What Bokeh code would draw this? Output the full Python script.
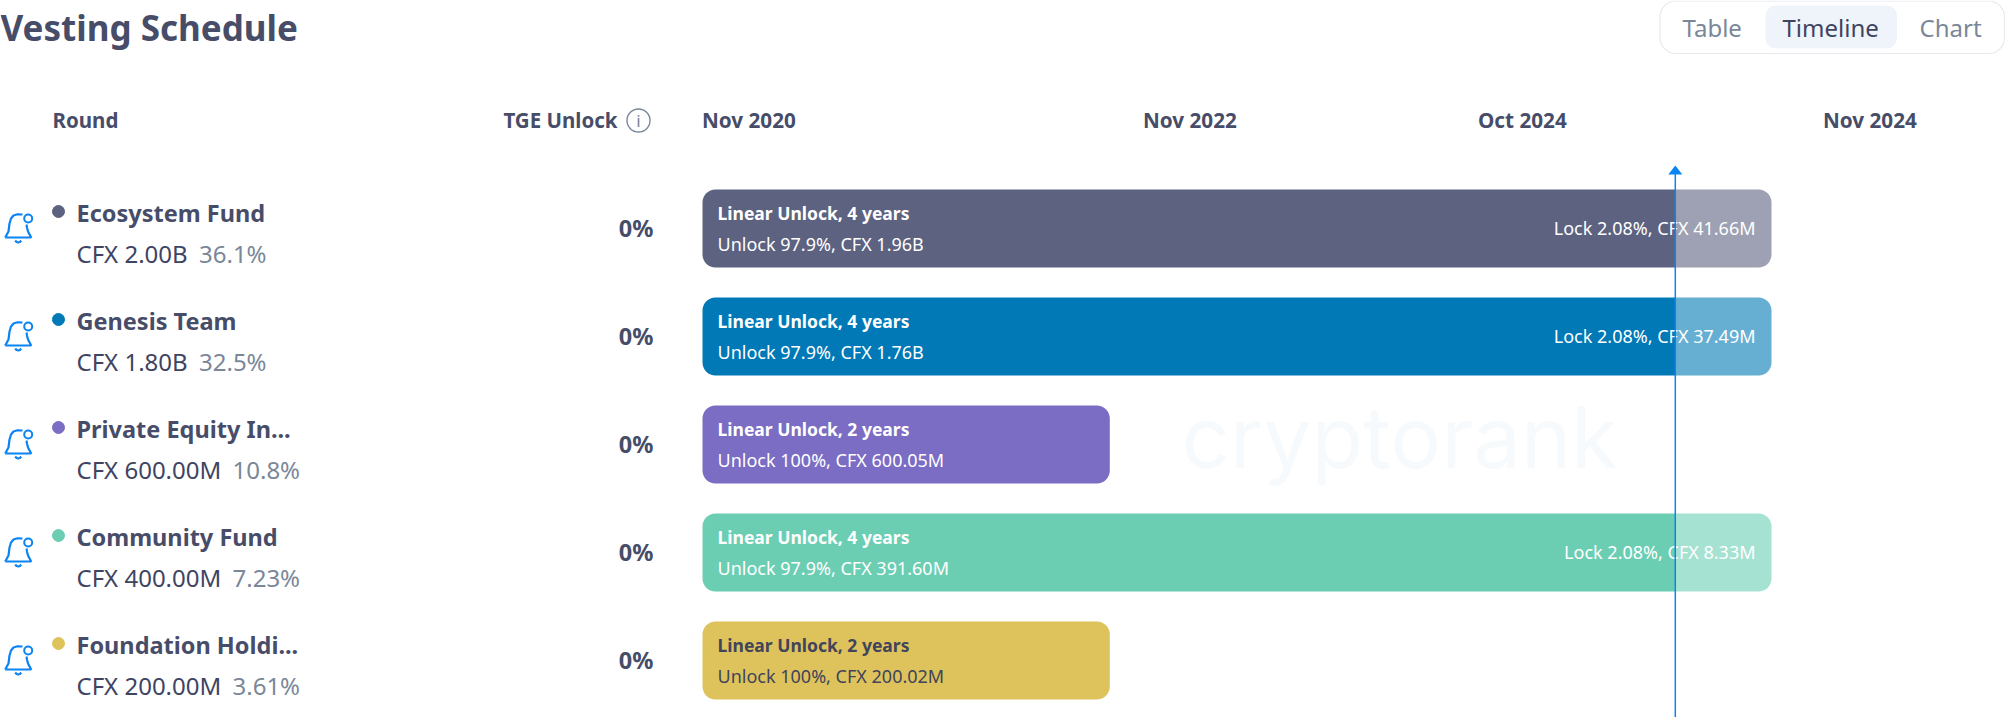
from bokeh.plotting import figure
from bokeh.models import Range1d
from bokeh.embed import file_html
from bokeh.resources import INLINE
from bokeh.core.properties import value

W, H = 2005, 717

rounds = ["Ecosystem Fund", "Genesis Team", "Private Equity In...", "Community Fund", "Foundation Holdi..."]
allocations = ["CFX 2.00B", "CFX 1.80B", "CFX 600.00M", "CFX 400.00M", "CFX 200.00M"]
shares = ["36.1%", "32.5%", "10.8%", "7.23%", "3.61%"]
tge_unlock = ["0%", "0%", "0%", "0%", "0%"]
# end of each vesting bar on the timeline, as a share of the longest bar
vesting_end = [1.0, 1.0, 0.381, 1.0, 0.381]
vesting_titles = ["Linear Unlock, 4 years", "Linear Unlock, 4 years", "Linear Unlock, 2 years",
                  "Linear Unlock, 4 years", "Linear Unlock, 2 years"]
unlock_labels = ["Unlock 97.9%, CFX 1.96B", "Unlock 97.9%, CFX 1.76B", "Unlock 100%, CFX 600.05M",
                 "Unlock 97.9%, CFX 391.60M", "Unlock 100%, CFX 200.02M"]
lock_labels = ["Lock 2.08%, CFX 41.66M", "Lock 2.08%, CFX 37.49M", "", "Lock 2.08%, CFX 8.33M", ""]
colors = ["#5c6280", "#0079b6", "#7b6cc4", "#6bceb3", "#dec35c"]
bar_text_colors = ["#ffffff", "#ffffff", "#ffffff", "#ffffff", "#41445a"]
today_pos = 0.91
time_labels = ["Nov 2020", "Nov 2022", "Oct 2024", "Nov 2024"]
time_label_px = [701.5, 1142.5, 1477.5, 1822.5]
share_px = [198.5, 198.5, 232, 232, 232]

DARK = "#3e4461"
STRONG = "#474d69"
GREY = "#7a8798"
BLUE = "#0b84f3"
FONT = value("Noto Sans")

PX_UNIT = 1771 - 702
ROW0, ROW_STEP = 228, 108

p = figure(width=W, height=H, output_backend="svg", toolbar_location=None,
           x_axis_location=None, y_axis_location=None, min_border=0,
           x_range=Range1d(-702 / PX_UNIT, (W - 702) / PX_UNIT),
           y_range=Range1d((H - ROW0) / ROW_STEP, -ROW0 / ROW_STEP),
           outline_line_color=None, background_fill_color="white", border_fill_color="white",
           styles={"position": "absolute", "left": "0px", "top": "0px"})
p.grid.visible = False
p.extra_x_ranges["px"] = Range1d(0, W)
p.extra_y_ranges["py"] = Range1d(H, 0)


def label(x, y, text, size, color=DARK, style="normal", align="left", font=FONT):
    p.text(x=x, y=y, text=text, x_range_name="px", y_range_name="py",
           text_font=font, text_font_size=f"{size}px", text_font_style=style,
           text_color=color, text_align=align, text_baseline="middle")


def row_px(i, dy=0):
    return ROW0 + ROW_STEP * i + dy


n = len(rounds)
rows = list(range(n))

# Watermark
label([1181], [437], ["cryptorank"], 85, color="#f7fafc", font=value("Inter"))

# Header
label([0], [26.5], ["Vesting Schedule"], 35, color=STRONG, style="bold")
p.quad(left=[1659.5], right=[2004], top=[0.5], bottom=[53], x_range_name="px", y_range_name="py",
       fill_color="white", line_color="#e6eaef", line_width=1.2, border_radius=16)
p.quad(left=[1765], right=[1896.5], top=[5], bottom=[48], x_range_name="px", y_range_name="py",
       fill_color="#eff4fb", line_color=None, border_radius=10)
label([1682, 1919], [26.5, 26.5], ["Table", "Chart"], 24, color=GREY)
label([1782], [26.5], ["Timeline"], 24)

label([52], [119], ["Round"], 20.5, color=STRONG, style="bold")
label([617], [119], ["TGE Unlock"], 20.5, color=STRONG, style="bold", align="right")
label(time_label_px, [119] * 4, time_labels, 20.7, color=STRONG, style="bold")
p.scatter(x=[638], y=[120], size=23, marker="circle", fill_color=None, line_color=GREY, line_width=1.4,
          x_range_name="px", y_range_name="py")
label([638], [119.5], ["i"], 17, color=GREY, align="center")

# Left table
label([76] * n, [row_px(i, -16) for i in rows], rounds, 23.5, color=STRONG, style="bold")
label([76] * n, [row_px(i, 25) for i in rows], allocations, 24)
label(share_px, [row_px(i, 25) for i in rows], shares, 24, color=GREY)
label([653] * n, [row_px(i, -1) for i in rows], tge_unlock, 23.5, color=STRONG, style="bold", align="right")
p.scatter(x=[58] * n, y=[row_px(i, -17) for i in rows], size=12, marker="circle",
          color=colors, x_range_name="px", y_range_name="py")

# Bell icons
bell_dx = [4.7, 8, 9, 10.5, 13, 17, 22, None, 4.7, 30.7, 27.5, 26.5, 26, None, 14.7, 16, 17.7, 19.4, 20.7]
bell_dy = [9, 3, -5, -10, -13, -14.2, -14, None, 9, 9, 3, -1, -4, None, 12, 13.5, 14, 13.5, 12]
for i in rows:
    xs, ys = [], []
    for dx, dy in zip(bell_dx, bell_dy):
        xs.append(float("nan") if dx is None else dx)
        ys.append(float("nan") if dy is None else row_px(i, dy))
    p.line(xs, ys, line_color=BLUE, line_width=2.2, x_range_name="px", y_range_name="py")
p.scatter(x=[27.7] * n, y=[row_px(i, -10) for i in rows], size=8, marker="circle",
          fill_color=None, line_color=BLUE, line_width=2, x_range_name="px", y_range_name="py")

# Bars through the timeline scale
BAR_H = 78 / ROW_STEP
R = 13
locked = [i for i in rows if lock_labels[i]]
full = [i for i in rows if not lock_labels[i]]
p.hbar(y=full, left=0, right=[vesting_end[i] for i in full], height=BAR_H,
       fill_color=[colors[i] for i in full], line_color=None, border_radius=R)
p.hbar(y=locked, left=0, right=today_pos, height=BAR_H,
       fill_color=[colors[i] for i in locked], line_color=None, border_radius=(R, 0, 0, R))
p.hbar(y=locked, left=today_pos, right=[vesting_end[i] for i in locked], height=BAR_H,
       fill_color=[colors[i] for i in locked], fill_alpha=0.6, line_color=None, border_radius=(0, R, R, 0))

for i in rows:
    label([717], [row_px(i, -16)], [vesting_titles[i]], 17.5, color=bar_text_colors[i], style="bold")
    label([717], [row_px(i, 15)], [unlock_labels[i]], 18, color=bar_text_colors[i])
    if lock_labels[i]:
        label([1755], [row_px(i, -1)], [lock_labels[i]], 18, color="#ffffff", align="right")

# Today marker
today_px = 702 + today_pos * PX_UNIT
p.segment(x0=[today_pos], x1=[today_pos], y0=[172], y1=[H], y_range_name="py",
          line_color=BLUE, line_width=1.5)
p.patch(x=[today_px - 7, today_px, today_px + 7], y=[174, 165, 174], x_range_name="px", y_range_name="py",
        fill_color=BLUE, line_color=None)

open("out.html", "w").write(file_html(p, INLINE))
